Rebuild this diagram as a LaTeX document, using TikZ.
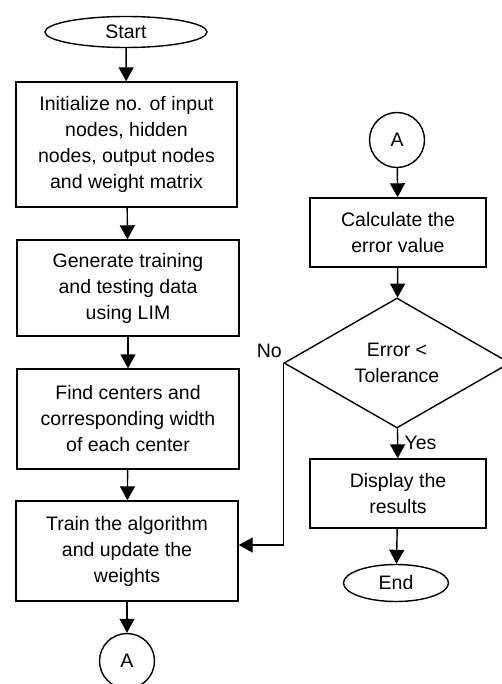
\documentclass[tikz,border=0pt]{standalone}
\usepackage{fontspec}
\setmainfont{Liberation Sans}
\usepackage{tikz}
\usetikzlibrary{shapes.geometric, arrows, arrows.meta}
\usetikzlibrary{positioning}
\tikzstyle{startstop} = [ellipse, draw=black, line width=1.4pt, inner sep=0pt, text centered]
\tikzstyle{process} = [rectangle, draw=black, line width=1.4pt, inner sep=0pt, align=center]
\tikzstyle{decision} = [diamond, draw=black, line width=1.4pt, inner sep=0pt, align=center]
\tikzstyle{connector} = [circle, draw=black, line width=1.4pt, inner sep=0pt, minimum size=55pt]
\tikzstyle{arrow} = [line width=1.4pt,->,>={Triangle[length=14pt,width=15pt]}]

\begin{document}
\begin{tikzpicture}[x=1pt, y=-1pt, font=\fontsize{19.5}{26}\selectfont]
	\useasboundingbox (0,0) rectangle (502,684);
	% left column
	\node (start) [startstop, minimum width=162pt, minimum height=31pt] at (126,32) {Start};
	\node (init) [process, minimum width=221pt, minimum height=125pt] at (126.5,144.5) {Initialize no. of input\\nodes, hidden\\nodes, output nodes\\and weight matrix};
	\node (gen) [process, minimum width=222pt, minimum height=96pt] at (128,288) {Generate training\\and testing data\\using LIM};
	\node (find) [process, minimum width=222pt, minimum height=100pt] at (128,419) {Find centers and\\corresponding width\\of each center};
	\node (train) [process, minimum width=222pt, minimum height=100pt] at (127,551) {Train the algorithm\\and update the\\weights};
	\node (outA) [connector] at (127,661) {A};
	% right column
	\node (inA) [connector] at (397,140) {A};
	\node (calc) [process, minimum width=176pt, minimum height=69pt] at (398,232.5) {Calculate the\\error value};
	\node (check) [decision, minimum width=226pt, minimum height=130pt] at (397,363) {Error <\\Tolerance};
	\node (disp) [process, minimum width=176pt, minimum height=69pt] at (398,493.5) {Display the\\results};
	\node (stop) [startstop, minimum width=105pt, minimum height=37pt] at (396,583) {End};
	\coordinate (back) at (check.west |- 0,545);

	\draw [arrow] (start) -- (init);
	\draw [arrow] (init) -- (gen);
	\draw [arrow] (gen) -- (find);
	\draw [arrow] (find) -- (train);
	\draw [arrow] (train) -- (outA);
	\draw [arrow] (inA) -- (calc);
	\draw [arrow] (calc) -- (check);
	\draw [arrow] (check) -- node [right, xshift=3pt] {Yes} (disp);
	\draw [arrow] (disp) -- (stop);
	\draw [arrow] (check.west) -- (back) -- (back -| train.east);
	\node (no) [above left, xshift=2pt, yshift=2pt] at (check.west) {No};
\end{tikzpicture}
\end{document}
